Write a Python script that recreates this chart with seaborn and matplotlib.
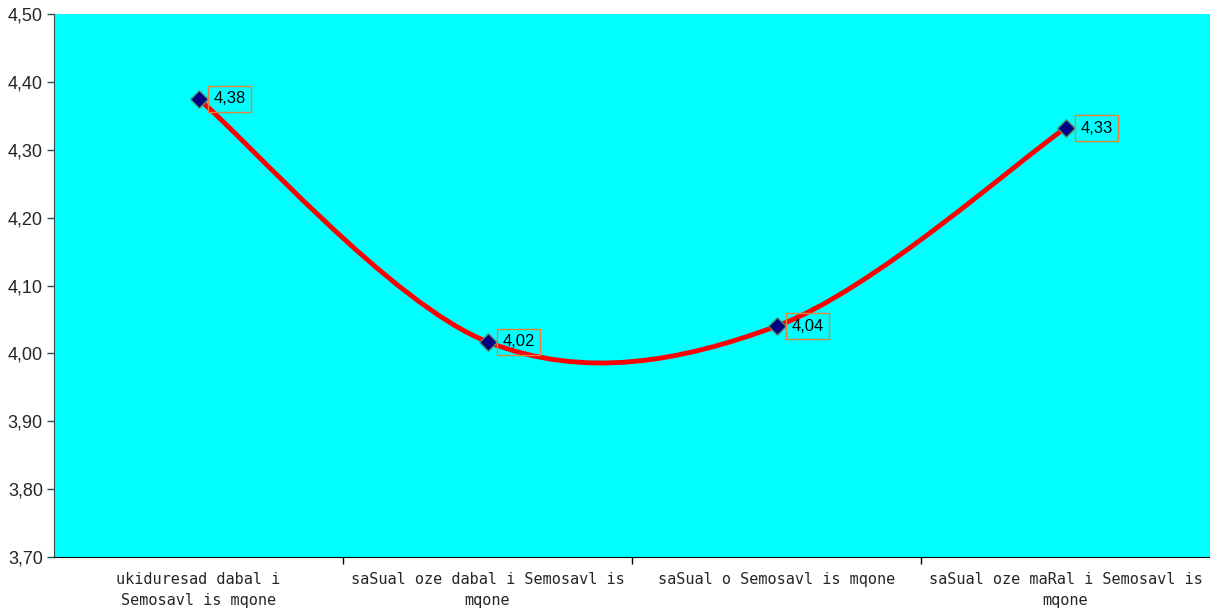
import matplotlib.pyplot as plt
import numpy as np
import seaborn as sns
from matplotlib.path import Path
from matplotlib.patches import PathPatch

# Values
categories = [
    "ukiduresad dabal i\nSemosavl is mqone",
    "saSual oze dabal i Semosavl is\nmqone",
    "saSual o Semosavl is mqone",
    "saSual oze maRal i Semosavl is\nmqone",
]
values = [4.375, 4.017, 4.04, 4.332]
value_labels = ["4,38", "4,02", "4,04", "4,33"]
y_ticks = [3.70, 3.80, 3.90, 4.00, 4.10, 4.20, 4.30, 4.40, 4.50]

sns.set_style("white")
plt.rcParams["font.family"] = ["Liberation Sans", "DejaVu Sans"]

fig = plt.figure(figsize=(12.10, 6.11), dpi=100)
ax = fig.add_axes([54 / 1210, 1 - 557 / 611, 1 - 54 / 1210, (557 - 14) / 611])
ax.set_facecolor("#00FFFF")

x = np.arange(len(values))
y = np.array(values)

# Smoothed line (Catmull-Rom style cubic Bezier, as in spreadsheet "smoothed line")
pts = np.column_stack([x, y])
verts = [pts[0]]
codes = [Path.MOVETO]
n = len(pts)
for i in range(n - 1):
    p0 = pts[i - 1] if i > 0 else pts[i]
    p1 = pts[i]
    p2 = pts[i + 1]
    p3 = pts[i + 2] if i + 2 < n else pts[i + 1]
    c1 = p1 + (p2 - p0) / 6
    c2 = p2 - (p3 - p1) / 6
    verts += [c1, c2, p2]
    codes += [Path.CURVE4] * 3
ax.add_patch(PathPatch(Path(verts, codes), facecolor="none", edgecolor="#FF0000",
                       linewidth=3.5, capstyle="round", zorder=2))

sns.scatterplot(x=x, y=y, marker="D", s=80, color="#000080",
                edgecolor="#4f8f6f", linewidth=1, zorder=3, ax=ax)

for xi, yi, lab in zip(x, y, value_labels):
    ax.annotate(lab, (xi, yi), xytext=(11, 0), textcoords="offset points",
                ha="left", va="center", fontsize=12, color="black",
                bbox=dict(boxstyle="square,pad=0.32", facecolor="none",
                          edgecolor="#E8803A", linewidth=1))

ax.set_xlim(-0.5, len(values) - 0.5)
ax.set_ylim(3.70, 4.50)
ax.set_yticks(y_ticks)
ax.set_yticklabels([f"{t:.2f}".replace(".", ",") for t in y_ticks], fontsize=13)

ax.set_xticks(np.arange(0.5, len(values) - 0.5, 1))
ax.set_xticklabels([])
ax.set_xticks(x, minor=True)
ax.set_xticklabels(categories, minor=True, fontsize=11,
                   family=["DejaVu Sans Mono"], linespacing=1.5)
ax.tick_params(axis="x", which="minor", length=0, pad=11)
ax.tick_params(axis="x", which="major", length=5, width=1, color="black",
               direction="out", bottom=True)
ax.tick_params(axis="y", length=5, width=1, color="#2f4f4f", direction="out",
               left=True, pad=3)

for side in ["top", "right"]:
    ax.spines[side].set_visible(False)
ax.spines["left"].set_color("#2f4f4f")
ax.spines["bottom"].set_color("black")
ax.set_xlabel("")
ax.set_ylabel("")

fig.savefig("out.png", dpi=100)
